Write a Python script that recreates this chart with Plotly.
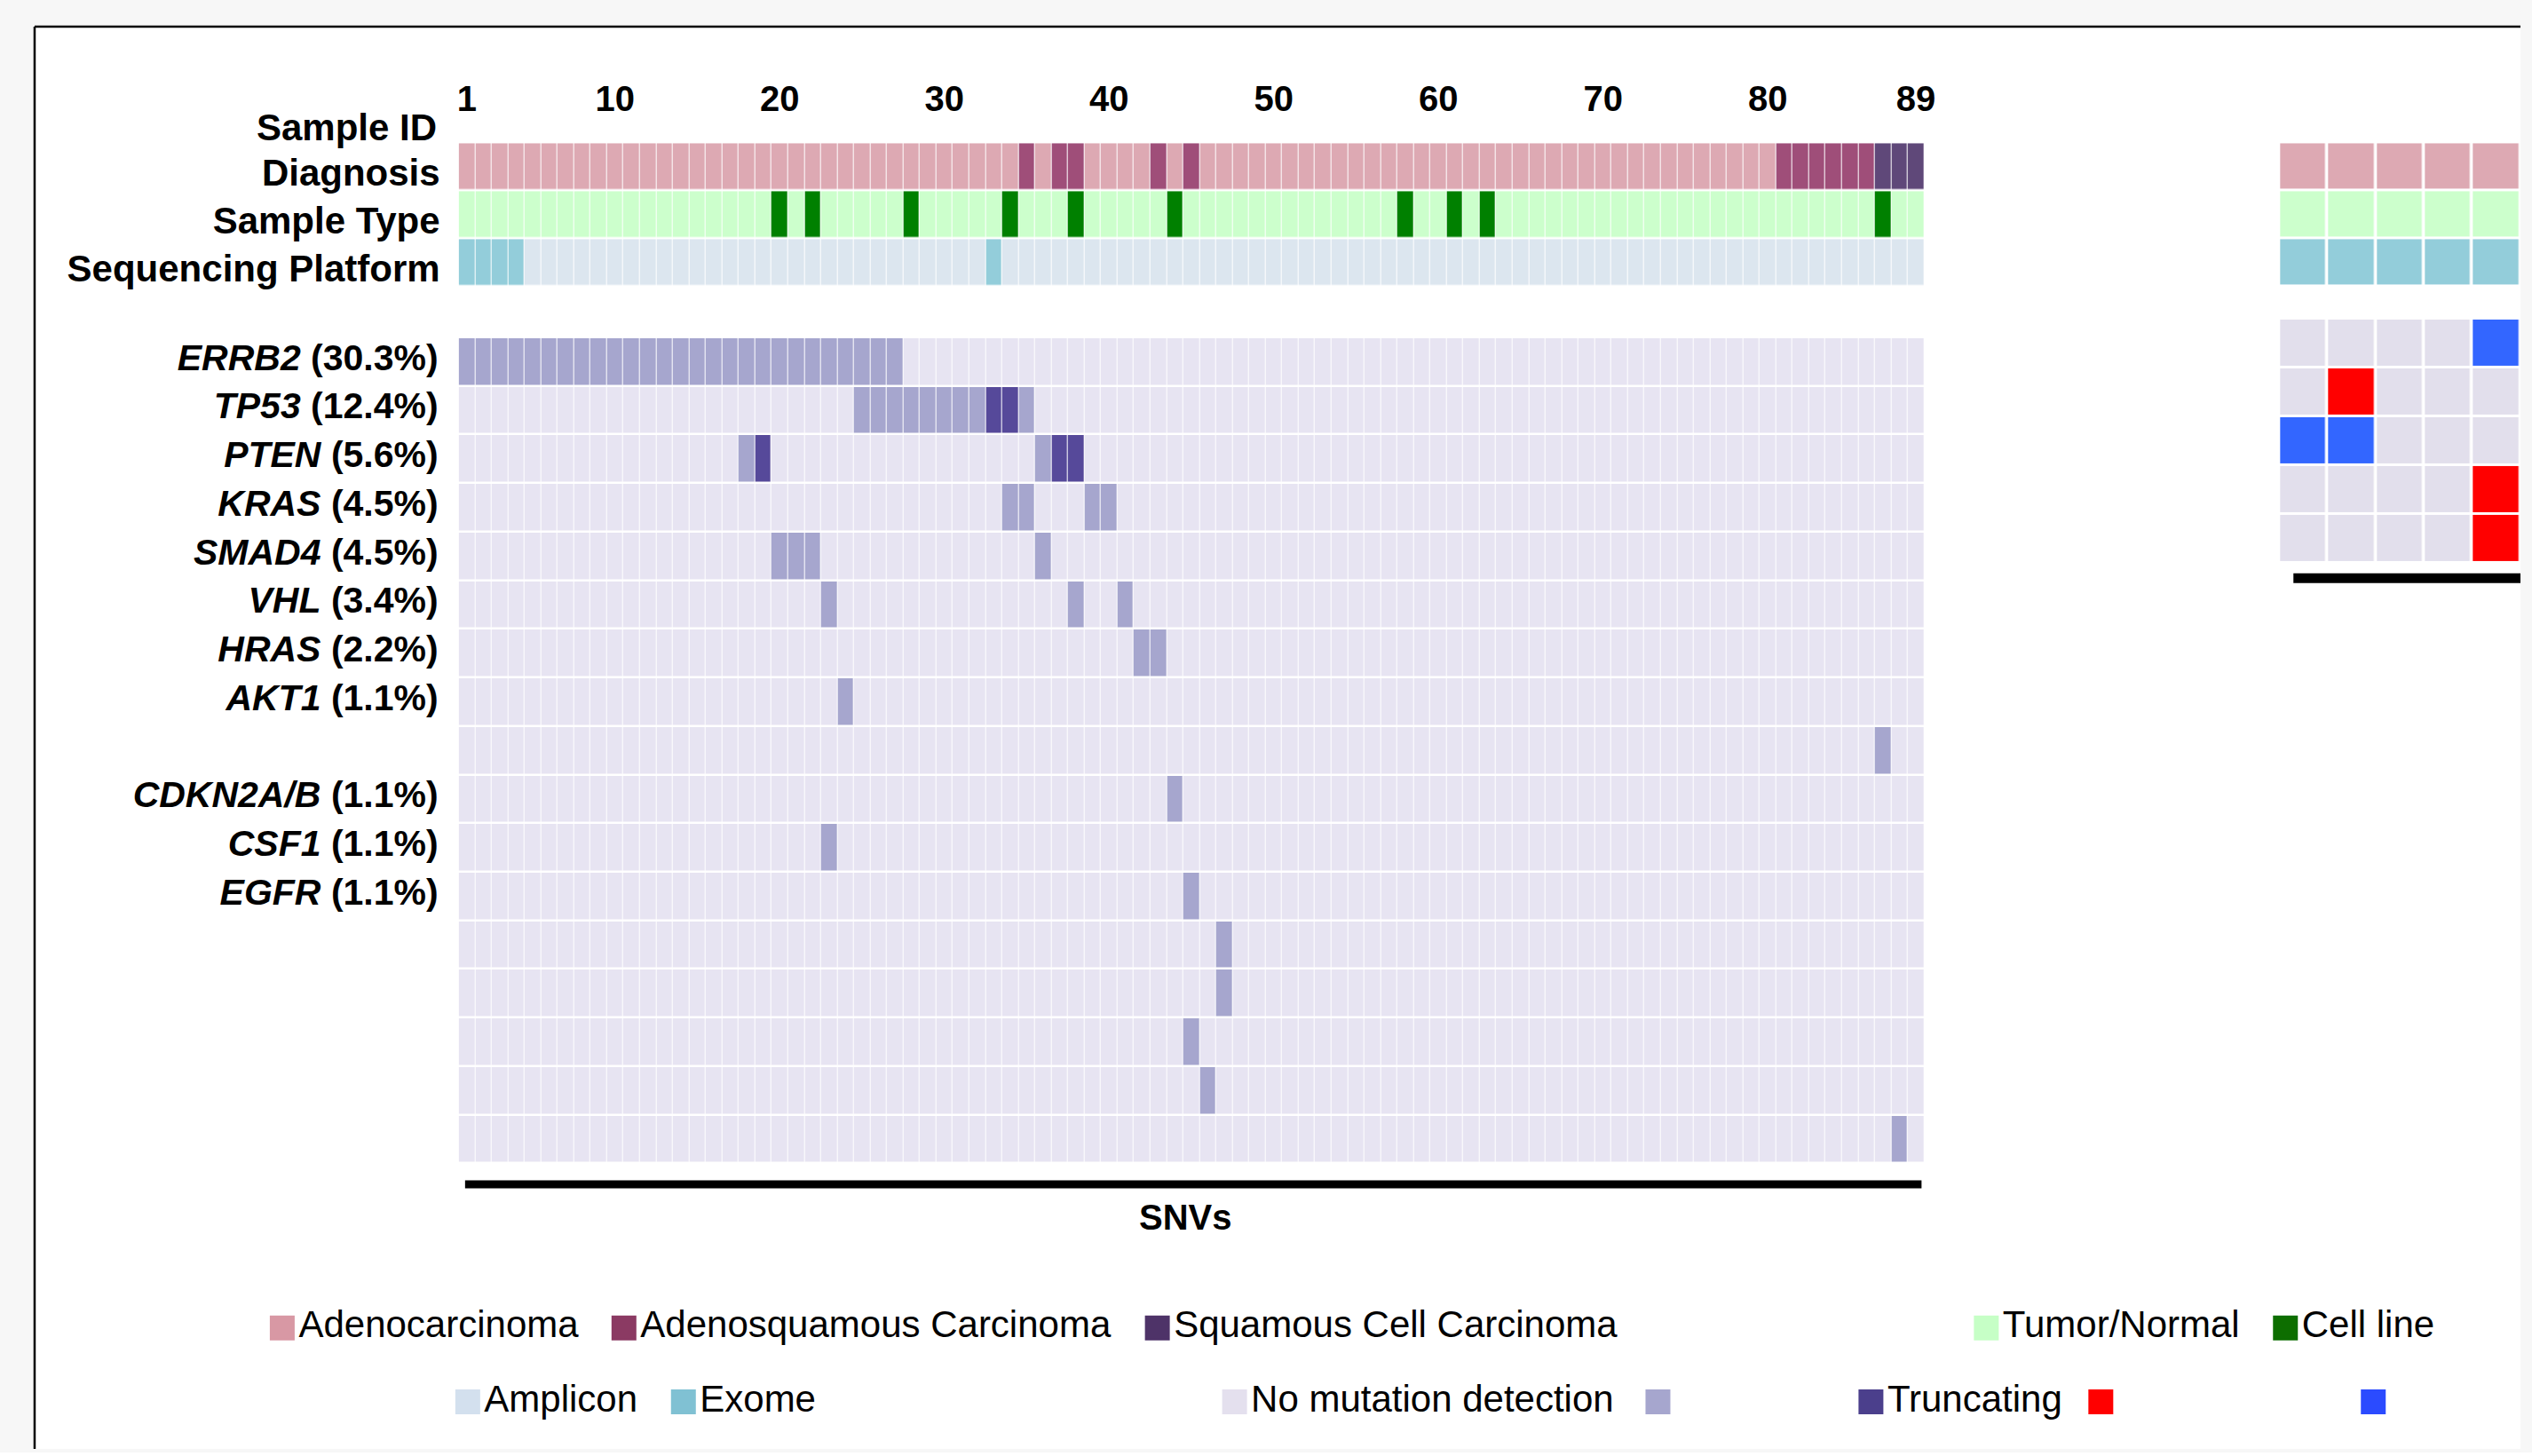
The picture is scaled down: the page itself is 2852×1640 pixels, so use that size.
import plotly.graph_objects as go

# ---------------- data ----------------
sample_ids = list(range(1, 90))
tick_ids = [1, 10, 20, 30, 40, 50, 60, 70, 80, 89]

# clinical annotation (samples not listed are Adenocarcinoma / Tumor-Normal / Amplicon)
adenosquamous_ids = [35, 37, 38, 43, 45, 81, 82, 83, 84, 85, 86]
squamous_ids = [87, 88, 89]
cell_line_ids = [20, 22, 28, 34, 38, 44, 58, 61, 63, 87]
exome_ids = [1, 2, 3, 4, 33]

track_labels = ["Diagnosis", "Sample Type", "Sequencing Platform"]

gene_names = ["ERRB2", "TP53", "PTEN", "KRAS", "SMAD4", "VHL", "HRAS", "AKT1", "",
              "CDKN2A/B", "CSF1", "EGFR", "", "", "", "", ""]
gene_freqs = ["30.3%", "12.4%", "5.6%", "4.5%", "4.5%", "3.4%", "2.2%", "1.1%", "",
              "1.1%", "1.1%", "1.1%", "", "", "", "", ""]

missense_ids = [
    [1, 2, 3, 4, 5, 6, 7, 8, 9, 10, 11, 12, 13, 14, 15, 16, 17, 18, 19, 20, 21, 22, 23, 24, 25, 26, 27],
    [25, 26, 27, 28, 29, 30, 31, 32, 35],
    [18, 36],
    [34, 35, 39, 40],
    [20, 21, 22, 36],
    [23, 38, 41],
    [42, 43],
    [24],
    [87],
    [44],
    [23],
    [45],
    [47],
    [47],
    [45],
    [46],
    [88],
]
truncating_ids = [[], [33, 34], [19, 37, 38], [], [], [], [], [], [], [], [], [], [], [], [], [], []]

# right-hand panel (5 samples, 5 genes)
panel_ids = [1, 2, 3, 4, 5]
panel_diagnosis = ["Adenocarcinoma"] * 5
panel_type = ["Tumor/Normal"] * 5
panel_platform = ["Exome"] * 5
panel_red = [[], [2], [], [5], [5]]
panel_blue = [[5], [], [1, 2], [], []]

# legend
legend_labels = ["Adenocarcinoma", "Adenosquamous Carcinoma", "Squamous Cell Carcinoma",
                 "Tumor/Normal", "Cell line",
                 "Amplicon", "Exome", "No mutation detection", "", "Truncating", "", ""]
legend_colors = ["#d898a4", "#8b3a63", "#4e3368", "#c6ffc6", "#0d6e00",
                 "#d3e0ee", "#80c1d3", "#e4e0ee", "#a6a6ce", "#4b3f8c", "#ff0000", "#2b4bff"]

# ---------------- styles / layout constants ----------------
W, H = 2852, 1640          # target canvas (reference pixel coordinates)
K = 1.005                  # small stretch compensating the photographed scale
FW, FH = W, H - 4
FONT = "Liberation Sans, Arial, sans-serif"
legend_x = [316, 701, 1302, 2236, 2573, 525, 768, 1389, 1866, 2106, 2365, 2672]
legend_y = [1492, 1492, 1492, 1492, 1492, 1575, 1575, 1575, 1575, 1575, 1575, 1575]


def fx(p):
    return min(1.0, p * K / FW)


def fy(p):
    return max(0.0, 1 - p * K / FH)


def discrete_scale(colors):
    n = len(colors)
    cs = []
    for i, c in enumerate(colors):
        cs.append([i / n, c])
        cs.append([(i + 1) / n, c])
    return cs


# ---------------- build matrices ----------------
diag_code = {"Adenocarcinoma": 0, "Adenosquamous Carcinoma": 1, "Squamous Cell Carcinoma": 2}
type_code = {"Tumor/Normal": 3, "Cell line": 4}
plat_code = {"Amplicon": 5, "Exome": 6}

diagnosis = []
sample_type = []
platform = []
for s in sample_ids:
    if s in adenosquamous_ids:
        diagnosis.append("Adenosquamous Carcinoma")
    elif s in squamous_ids:
        diagnosis.append("Squamous Cell Carcinoma")
    else:
        diagnosis.append("Adenocarcinoma")
    sample_type.append("Cell line" if s in cell_line_ids else "Tumor/Normal")
    platform.append("Exome" if s in exome_ids else "Amplicon")

z_top = [[diag_code[d] for d in diagnosis],
         [type_code[t] for t in sample_type],
         [plat_code[p] for p in platform]]
top_colors = ["#dda9b3", "#9f4e79", "#5f4879", "#ccffcc", "#008000", "#dce6ef", "#93cdda"]

z_mut = []
for miss, trunc in zip(missense_ids, truncating_ids):
    row = []
    for s in sample_ids:
        row.append(2 if s in trunc else (1 if s in miss else 0))
    z_mut.append(row)
mut_colors = ["#e7e4f2", "#a6a6ce", "#56499a"]

z_ptop = [[diag_code[d] for d in panel_diagnosis],
          [type_code[t] for t in panel_type],
          [plat_code[p] for p in panel_platform]]

z_pmut = []
for red, blue in zip(panel_red, panel_blue):
    z_pmut.append([2 if s in blue else (1 if s in red else 0) for s in panel_ids])
pmut_colors = ["#e2dfec", "#ff0000", "#3366ff"]

row_idx = list(range(1, len(gene_names) + 1))
gene_ticktext = []
for g, f in zip(gene_names, gene_freqs):
    gene_ticktext.append(f"<b><i>{g}</i> ({f})</b>" if g else "")

# ---------------- figure ----------------
fig = go.Figure()

fig.add_trace(go.Heatmap(
    x=sample_ids, y=[1, 2, 3], z=z_top, xaxis="x", yaxis="y",
    colorscale=discrete_scale(top_colors), zmin=-0.5, zmax=len(top_colors) - 0.5,
    showscale=False, xgap=1, ygap=2.5, hoverinfo="skip"))

fig.add_trace(go.Heatmap(
    x=sample_ids, y=row_idx, z=z_mut, xaxis="x", yaxis="y2",
    colorscale=discrete_scale(mut_colors), zmin=-0.5, zmax=len(mut_colors) - 0.5,
    showscale=False, xgap=1, ygap=2.5, hoverinfo="skip"))

fig.add_trace(go.Heatmap(
    x=panel_ids, y=[1, 2, 3], z=z_ptop, xaxis="x3", yaxis="y3",
    colorscale=discrete_scale(top_colors), zmin=-0.5, zmax=len(top_colors) - 0.5,
    showscale=False, xgap=3.5, ygap=3, hoverinfo="skip"))

fig.add_trace(go.Heatmap(
    x=panel_ids, y=[1, 2, 3, 4, 5], z=z_pmut, xaxis="x3", yaxis="y4",
    colorscale=discrete_scale(pmut_colors), zmin=-0.5, zmax=len(pmut_colors) - 0.5,
    showscale=False, xgap=3.5, ygap=3, hoverinfo="skip"))

fig.add_trace(go.Scatter(
    x=legend_x, y=legend_y, xaxis="x4", yaxis="y5",
    mode="markers+text", text=legend_labels, textposition="middle right",
    textfont=dict(family=FONT, size=42, color="black"),
    marker=dict(symbol="square", size=28, color=legend_colors, line=dict(width=0)),
    cliponaxis=False, hoverinfo="skip", showlegend=False))

main_x = [fx(514.8), fx(2166)]
noax = dict(showgrid=False, zeroline=False, showline=False, showticklabels=False, ticks="")

fig.update_layout(
    width=FW, height=FH,
    margin=dict(l=0, r=0, t=0, b=0),
    paper_bgcolor="#f7f7f7",
    plot_bgcolor="rgba(0,0,0,0)",
    font=dict(family=FONT, color="black"),
    showlegend=False,
    xaxis=dict(domain=main_x, range=[0.5, 89.5], side="top", anchor="y",
               tickmode="array", tickvals=tick_ids, ticktext=[str(t) for t in tick_ids],
               tickfont=dict(family=FONT, size=40, weight="bold", color="black"),
               ticks="", ticklabelstandoff=26,
               showgrid=False, zeroline=False, showline=False),
    yaxis=dict(domain=[fy(322), fy(160)], range=[3.5, 0.5], anchor="x",
               tickmode="array", tickvals=[1, 2, 3], ticktext=[f"<b>{t}</b>" for t in track_labels],
               tickfont=dict(family=FONT, size=42, color="black"),
               ticks="", ticklabelstandoff=20, ticklabelshift=-7,
               showgrid=False, zeroline=False, showline=False),
    yaxis2=dict(domain=[fy(1307), fy(379)], range=[len(gene_names) + 0.5, 0.5], anchor="x",
                tickmode="array", tickvals=row_idx, ticktext=gene_ticktext,
                tickfont=dict(family=FONT, size=41, color="black"),
                ticks="", ticklabelstandoff=22, ticklabelshift=5,
                showgrid=False, zeroline=False, showline=False),
    xaxis3=dict(domain=[fx(2566), fx(2850)], range=[0.5, 5.5], anchor="y3", **noax),
    yaxis3=dict(domain=[fy(322), fy(160)], range=[3.5, 0.5], anchor="x3", **noax),
    yaxis4=dict(domain=[fy(632), fy(358)], range=[5.5, 0.5], anchor="x3", **noax),
    xaxis4=dict(domain=[0, 1], range=[0, FW / K], anchor="y5", visible=False),
    yaxis5=dict(domain=[0, 1], range=[FH / K, 0], anchor="x4", visible=False),
)

shapes = [
    # white panel (kept inside the canvas) + top and left frame edges
    dict(type="rect", xref="paper", yref="paper", x0=fx(37), x1=1, y0=0, y1=fy(30),
         fillcolor="white", line=dict(width=0), layer="below"),
    dict(type="line", xref="paper", yref="paper", x0=fx(37), x1=1, y0=fy(30), y1=fy(30),
         line=dict(color="black", width=2.5)),
    dict(type="line", xref="paper", yref="paper", x0=fx(37), x1=fx(37), y0=0, y1=fy(30),
         line=dict(color="black", width=2.5)),
    # SNVs bar
    dict(type="line", xref="paper", yref="paper", x0=fx(522), x1=fx(2163), y0=fy(1330.5), y1=fy(1330.5),
         line=dict(color="black", width=9)),
    # right panel bar
    dict(type="line", xref="paper", yref="paper", x0=fx(2582), x1=fx(2848), y0=fy(649.5), y1=fy(649.5),
         line=dict(color="black", width=11)),
]
fig.update_layout(shapes=shapes)

fig.update_layout(annotations=[
    dict(text="<b>Sample ID</b>", xref="paper", yref="paper", x=fx(492), y=fy(143),
         xanchor="right", yanchor="middle", showarrow=False,
         font=dict(family=FONT, size=42, color="black")),
    dict(text="<b>SNVs</b>", xref="paper", yref="paper", x=fx(1334), y=fy(1368),
         xanchor="center", yanchor="middle", showarrow=False,
         font=dict(family=FONT, size=40, color="black")),
])

fig.write_html(
    "out.html",
    config={"displayModeBar": False},
    post_script="document.body.style.margin='0';document.body.style.background='white';",
)
